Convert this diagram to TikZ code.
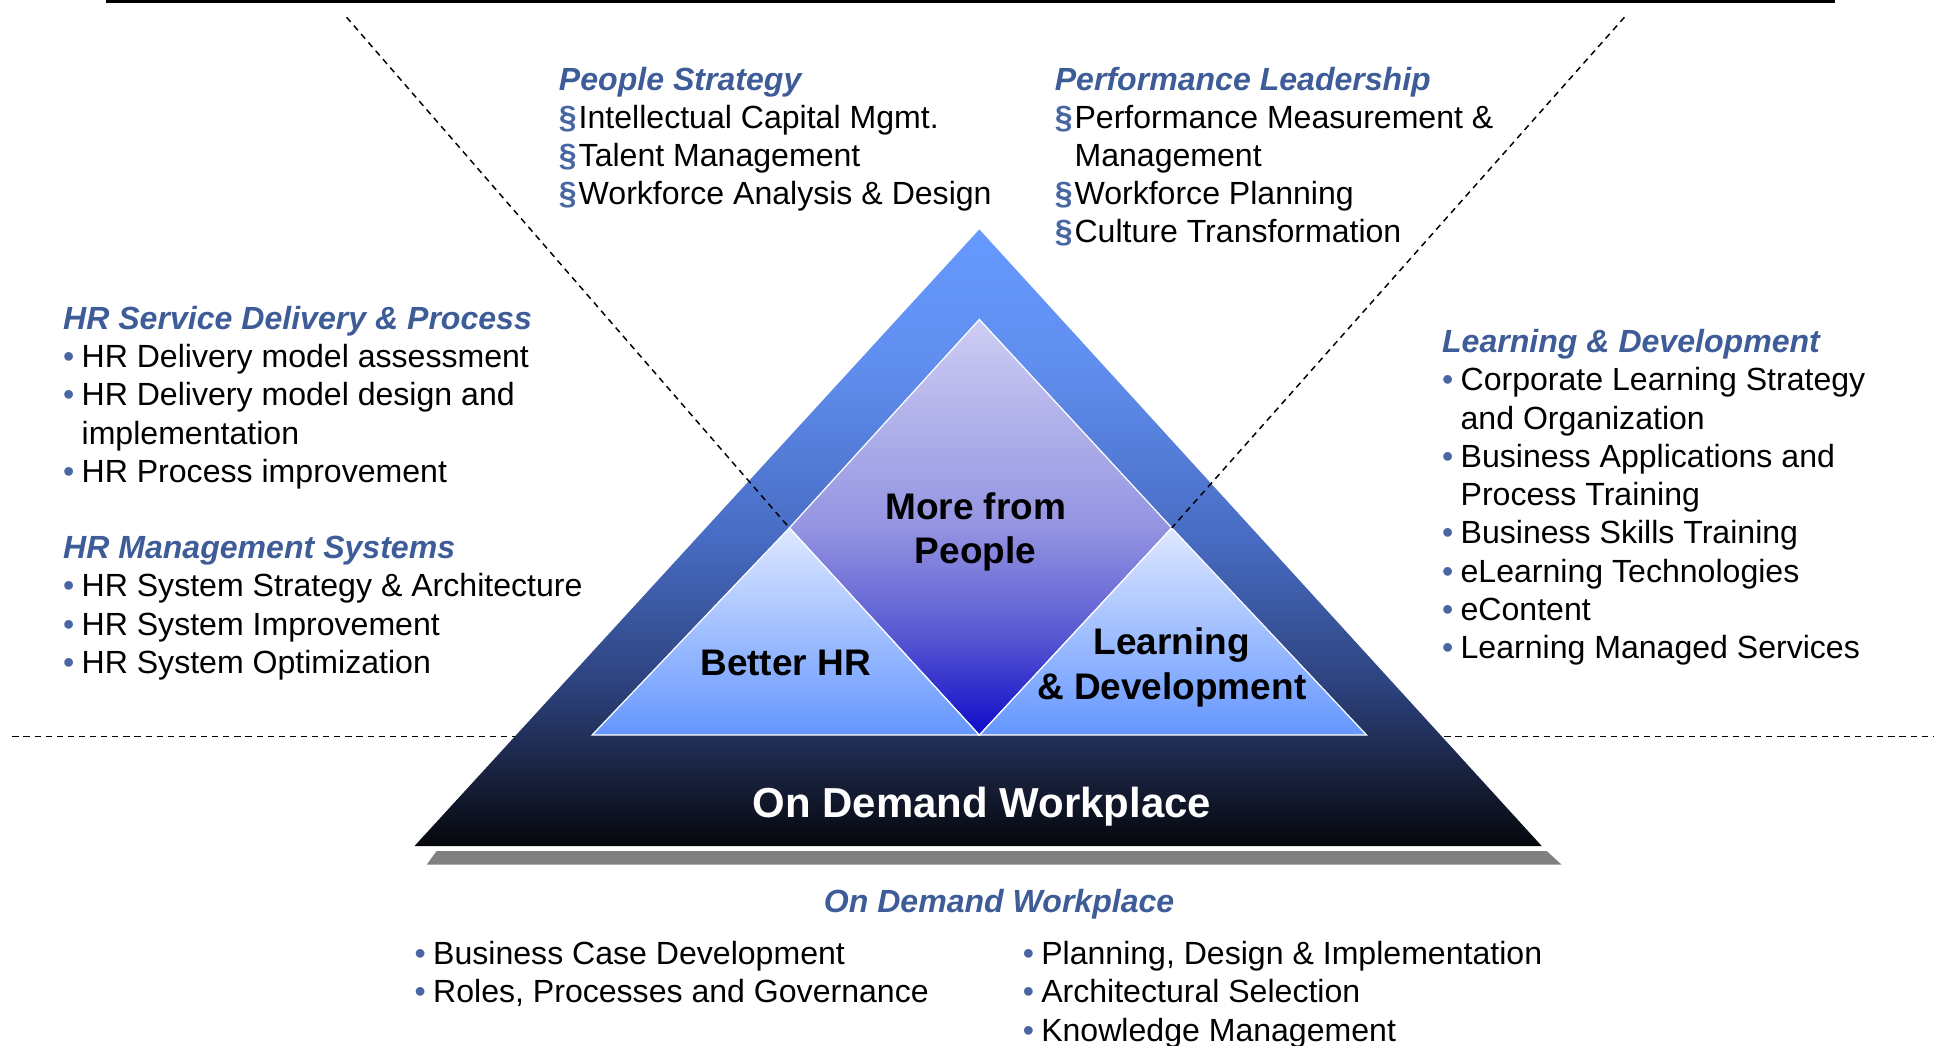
\documentclass[tikz,border=0pt]{standalone}
\usepackage{fontspec}
\setmainfont{Liberation Sans}
\definecolor{headc}{RGB}{62,92,152}
\definecolor{bulc}{RGB}{72,102,162}
\definecolor{shadowc}{RGB}{128,128,128}
\definecolor{oa}{RGB}{102,153,255}
\definecolor{ob}{RGB}{96,142,238}
\definecolor{oc}{RGB}{72,108,195}
\definecolor{od}{RGB}{45,66,125}
\definecolor{oe}{RGB}{22,30,55}
\definecolor{of}{RGB}{5,7,12}
\definecolor{da}{RGB}{205,205,243}
\definecolor{db}{RGB}{148,148,226}
\definecolor{dc}{RGB}{88,88,210}
\definecolor{dd}{RGB}{15,10,200}
\definecolor{ta}{RGB}{222,232,255}
\definecolor{tb}{RGB}{100,150,255}
\pgfdeclareverticalshading{outerg}{100bp}{color(0bp)=(of); color(25bp)=(of); color(30bp)=(oe); color(38bp)=(od); color(50bp)=(oc); color(64bp)=(ob); color(75bp)=(oa); color(100bp)=(oa)}
\pgfdeclareverticalshading{diamg}{100bp}{color(0bp)=(dd); color(25bp)=(dd); color(37bp)=(dc); color(50bp)=(db); color(75bp)=(da); color(100bp)=(da)}
\newcommand\mybul{\makebox[15pt][l]{\color{bulc}•}}
\newcommand\mysec{\makebox[16pt][l]{\color{bulc}\bfseries§}}
\newcommand\myhd[1]{{\color{headc}\bfseries\itshape #1}}
\begin{document}
\begin{tikzpicture}[x=1pt,y=1pt,
  blocktxt/.style={anchor=base west, align=left, inner sep=0pt, font=\fontsize{26}{31}\selectfont},
  tritxt/.style={anchor=base, align=center, inner sep=0pt, font=\fontsize{30}{36}\selectfont\bfseries},
  dashline/.style={line width=1.2pt, dash pattern=on 5pt off 4pt},
  innerline/.style={draw=white, line width=1pt}]
\useasboundingbox (0,0) rectangle (1568,848);
% coordinates
\coordinate (rl) at (86,847);
\coordinate (rr) at (1488,847);
\coordinate (hl) at (10,251);
\coordinate (hr) at (1568,251);
\coordinate (apex) at (794,662);
\coordinate (bl) at (336,162);
\coordinate (br) at (1250,162);
\coordinate (sa) at (354,158);
\coordinate (sb) at (1254,158);
\coordinate (sc) at (1266,147);
\coordinate (sd) at (346,147);
\coordinate (dt) at (794,589);
\coordinate (dl) at (640,420);
\coordinate (dr) at (950,420);
\coordinate (dbm) at (794,252);
\coordinate (il) at (480,252);
\coordinate (ir) at (1108,252);
\coordinate (tl) at (281,834);
\coordinate (tr) at (1317,834);
% rule on top
\draw[line width=2.5pt] (rl) -- (rr);
% horizontal dashed line
\draw[dashline] (hl) -- (hr);
% grey shadow
\fill[shadowc] (sa) -- (sb) -- (sc) -- (sd) -- cycle;
% outer triangle
\path[shading=outerg] (apex) -- (br) -- (bl) -- cycle;
% inner shapes
\path[shading=diamg, innerline] (dt) -- (dr) -- (dbm) -- (dl) -- cycle;
\path[top color=ta, bottom color=tb, innerline] (dl) -- (dbm) -- (il) -- cycle;
\path[top color=ta, bottom color=tb, innerline] (dr) -- (ir) -- (dbm) -- cycle;
% diagonal dashed lines
\draw[dashline] (tl) -- (dl);
\draw[dashline] (tr) -- (dr);
% triangle labels (anchor = baseline of last line)
\node[tritxt] (more) at (791,391) {More from\\People};
\node[tritxt] (better) at (637,300) {Better HR};
\node[tritxt] (learn) at (950,281) {Learning\\\& Development};
\node[anchor=base, inner sep=0pt, text=white, font=\fontsize{34}{40}\selectfont\bfseries] (odw) at (796,185) {On Demand Workplace};
% text blocks (anchor = baseline of last line)
\node[blocktxt] (ps) at (453,682) {\myhd{People Strategy}\\
\mysec Intellectual Capital Mgmt.\\
\mysec Talent Management\\
\mysec Workforce Analysis \& Design};
\node[blocktxt] (pl) at (855,651) {\myhd{Performance Leadership}\\
\mysec Performance Measurement \&\\
\hspace*{16pt}Management\\
\mysec Workforce Planning\\
\mysec Culture Transformation};
\node[blocktxt] (hrs) at (51,457) {\myhd{HR Service Delivery \& Process}\\
\mybul HR Delivery model assessment\\
\mybul HR Delivery model design and\\
\hspace*{15pt}implementation\\
\mybul HR Process improvement};
\node[blocktxt] (hrm) at (51,302) {\myhd{HR Management Systems}\\
\mybul HR System Strategy \& Architecture\\
\mybul HR System Improvement\\
\mybul HR System Optimization};
\node[blocktxt] (ld) at (1169,314) {\myhd{Learning \& Development}\\
\mybul Corporate Learning Strategy\\
\hspace*{15pt}and Organization\\
\mybul Business Applications and\\
\hspace*{15pt}Process Training\\
\mybul Business Skills Training\\
\mybul eLearning Technologies\\
\mybul eContent\\
\mybul Learning Managed Services};
\node[anchor=base, inner sep=0pt, font=\fontsize{26}{31}\selectfont] (odh) at (810,108) {\myhd{On Demand Workplace}};
\node[blocktxt] (odl) at (336,35) {\mybul Business Case Development\\
\mybul Roles, Processes and Governance};
\node[blocktxt] (odr) at (829,4) {\mybul Planning, Design \& Implementation\\
\mybul Architectural Selection\\
\mybul Knowledge Management};
\end{tikzpicture}
\end{document}
